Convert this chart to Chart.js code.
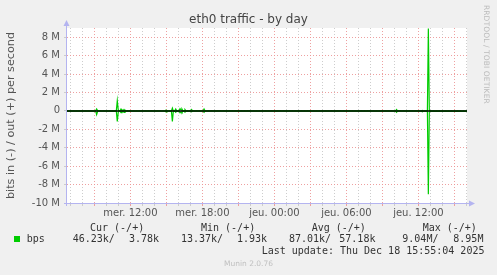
<!DOCTYPE html>
<html><head><meta charset="utf-8">
<script src="https://cdn.jsdelivr.net/npm/chart.js@4.4.1/dist/chart.umd.min.js"></script>
<style>
html,body{margin:0;padding:0;background:#f0f0f0;width:497px;height:275px;overflow:hidden;}
#wrap{position:relative;width:497px;height:275px;}
canvas{position:absolute;left:0;top:0;}
.m{position:absolute;white-space:pre;font-family:"DejaVu Sans Mono",monospace;font-size:10px;line-height:12px;color:#333;}
#title{position:absolute;left:0;width:497px;top:11px;text-align:center;font-family:"DejaVu Sans",sans-serif;font-size:12px;line-height:16px;color:#444;}
#rrd{position:absolute;left:482px;top:5px;writing-mode:vertical-rl;font-family:"DejaVu Sans",sans-serif;font-size:7.5px;color:#bbb;letter-spacing:0.1px;}
#munin{position:absolute;left:0;width:497px;top:259px;text-align:center;font-family:"DejaVu Sans",sans-serif;font-size:7.5px;color:#c0c0c0;}
#sq{position:absolute;left:14px;top:236px;width:6px;height:6px;background:#00cc00;}
</style></head>
<body>
<div id="wrap">
<canvas id="c" width="497" height="275"></canvas>
<div id="title">eth0 traffic - by day</div>
<div id="rrd">RRDTOOL / TOBI OETIKER</div>
<div id="sq"></div>
<div id="legend"></div>
<div id="munin">Munin 2.0.76</div>
</div>
<script>
// ---- data (values in millions of bits per second) ----
const hours = [6.72, 9.11, 9.19, 9.28, 10.83, 10.91, 11.0, 11.14, 11.22, 11.3, 11.39, 11.47, 11.55,
  14.89, 14.97, 15.05, 15.42, 15.5, 15.58, 15.7, 15.78, 15.86, 16.05, 16.14, 16.22, 16.3, 16.38,
  16.47, 16.55, 16.63, 17.02, 17.1, 17.18, 18.06, 18.14, 18.22, 34.1, 34.18, 34.26, 36.25, 36.33,
  36.41, 36.75, 36.83, 36.91, 40.05];
const outM = [0.004, 0.004, 0.2, 0.004, 0.004, 1.1, 0.004, 0.004, 0.2, 0.004, 0.004, 0.15, 0.004,
  0.004, 0.1, 0.004, 0.004, 0.3, 0.004, 0.004, 0.2, 0.004, 0.004, 0.25, 0.1, 0.2, 0.004,
  0.004, 0.15, 0.004, 0.004, 0.15, 0.004, 0.004, 0.2, 0.004, 0.004, 0.15, 0.004, 0.004, 0.05,
  0.004, 0.004, 8.95, 0.004, 0.004];
const inM = [0.03, 0.03, 0.4, 0.03, 0.03, 1.15, 0.03, 0.03, 0.2, 0.03, 0.03, 0.15, 0.03,
  0.03, 0.1, 0.03, 0.03, 1.15, 0.03, 0.03, 0.15, 0.03, 0.03, 0.2, 0.1, 0.2, 0.03,
  0.03, 0.1, 0.03, 0.03, 0.1, 0.03, 0.03, 0.15, 0.03, 0.03, 0.15, 0.03, 0.03, 0.1,
  0.03, 0.03, 9.04, 0.03, 0.046];
const xTickHours = [12, 18, 24, 30, 36];
const xTickLabels = ['mer. 12:00', 'mer. 18:00', 'jeu. 00:00', 'jeu. 06:00', 'jeu. 12:00'];
const yTickValues = [-10, -9, -8, -7, -6, -5, -4, -3, -2, -1, 0, 1, 2, 3, 4, 5, 6, 7, 8, 9];
const legendHead = ['Cur (-/+)', 'Min (-/+)', 'Avg (-/+)', 'Max (-/+)'];
const legendIn = ['46.23k/', '13.37k/', '87.01k/', '9.04M/'];
const legendOut = ['3.78k', '1.93k', '57.18k', '8.95M'];
const seriesName = 'bps';
const lastUpdate = 'Last update: Thu Dec 18 15:55:04 2025';
const xMin = 6.72, xMax = 40.05, yMin = -10, yMax = 9;

// ---- legend text ----
(function(){
  const L = document.getElementById('legend');
  function put(txt, left, top){ const d=document.createElement('div'); d.className='m'; d.textContent=txt; d.style.left=left+'px'; d.style.top=top+'px'; L.appendChild(d); }
  const headX=[90,201,311.7,422.7], inX=[72.7,181,289,402.3], outX=[129,237,339.3,453.3];
  legendHead.forEach((t,i)=>put(t,headX[i],221.5));
  put(seriesName,26.7,233);
  legendIn.forEach((t,i)=>put(t,inX[i],233));
  legendOut.forEach((t,i)=>put(t,outX[i],233));
  put(lastUpdate,261.7,245);
})();

const RED='rgba(236,150,150,0.9)', GRAY='rgba(200,200,200,0.9)', AX='#b4b4f0';
const outPts = hours.map((h,i)=>({x:h,y:outM[i]}));
const inPts = hours.map((h,i)=>({x:h,y:-inM[i]}));

const bg = {id:'bg', beforeDraw(c){const {ctx,chartArea:a}=c; ctx.save(); ctx.fillStyle='#fff'; ctx.fillRect(a.left,a.top,a.right-a.left,a.bottom-a.top); ctx.restore();}};
const zeroLine = {id:'zero', afterDatasetsDraw(c){
  const {ctx,chartArea:a}=c; const y=Math.round(c.scales.y.getPixelForValue(0));
  ctx.save(); ctx.strokeStyle='#000'; ctx.lineWidth=1.7; ctx.beginPath(); ctx.moveTo(a.left,y); ctx.lineTo(a.right,y); ctx.stroke(); ctx.restore();
}};
const axes = {id:'axes', afterDraw(c){
  const {ctx,chartArea:a}=c; ctx.save(); ctx.strokeStyle=AX; ctx.fillStyle=AX; ctx.lineWidth=1;
  const x0=Math.round(a.left)-0.5, y0=Math.round(a.bottom)+0.5;
  ctx.beginPath(); ctx.moveTo(x0,a.bottom+3); ctx.lineTo(x0,a.top-4); ctx.stroke();
  ctx.beginPath(); ctx.moveTo(x0-3,a.top-2); ctx.lineTo(x0+3,a.top-2); ctx.lineTo(x0,a.top-8); ctx.closePath(); ctx.fill();
  ctx.beginPath(); ctx.moveTo(a.left-3,y0); ctx.lineTo(a.right+4,y0); ctx.stroke();
  ctx.beginPath(); ctx.moveTo(a.right+2,y0-3); ctx.lineTo(a.right+2,y0+3); ctx.lineTo(a.right+8,y0); ctx.closePath(); ctx.fill();
  ctx.restore();
}};

new Chart(document.getElementById('c'), {
  type:'line',
  data:{datasets:[
    {data:outPts, borderColor:'#00cc00', borderWidth:1.2, pointRadius:0, tension:0},
    {data:inPts, borderColor:'#00cc00', borderWidth:1.2, pointRadius:0, tension:0}
  ]},
  options:{
    responsive:false, animation:false, devicePixelRatio:1,
    layout:{padding:{top:28,right:30,left:0,bottom:0}},
    plugins:{legend:{display:false}, tooltip:{enabled:false}},
    scales:{
      x:{type:'linear', min:xMin, max:xMax,
        afterBuildTicks(s){ const t=[]; for(let h=Math.ceil(xMin); h<=Math.floor(xMax); h++) t.push({value:h}); s.ticks=t; },
        afterFit(s){ s.height=72; },
        grid:{color:c=>c.tick && c.tick.value%3===0?RED:GRAY, lineWidth:1, tickLength:3, tickColor:c=>c.tick && c.tick.value%3===0?RED:GRAY},
        border:{display:false, dash:[1,2]},
        ticks:{autoSkip:false, maxRotation:0, padding:1, color:'#555', font:{family:'DejaVu Sans', size:10},
          callback:v=>{const i=xTickHours.indexOf(v); return i>=0?xTickLabels[i]:'';}}
      },
      y:{type:'linear', min:yMin, max:yMax,
        afterBuildTicks(s){ s.ticks=yTickValues.map(v=>({value:v})); },
        afterFit(s){ s.width=67; },
        grid:{color:c=>c.tick && c.tick.value%2===0?RED:GRAY, lineWidth:1, tickLength:3, tickColor:GRAY},
        border:{display:false, dash:[1,2]},
        ticks:{padding:4, color:'#555', font:{family:'DejaVu Sans', size:10},
          callback:v=>v%2===0?(v===0?'0':v+' M'):''},
        title:{display:true, text:'bits in (-) / out (+) per second', color:'#555', font:{family:'DejaVu Sans', size:11.2}, padding:{top:4,bottom:0}}
      }
    }
  },
  plugins:[bg, zeroLine, axes]
});
</script>
</body></html>
